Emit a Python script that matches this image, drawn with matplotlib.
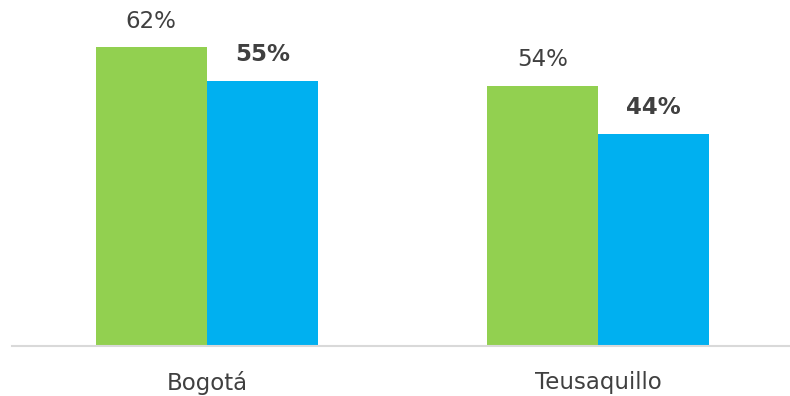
import matplotlib.pyplot as plt
import numpy as np

categories = ['Bogotá', 'Teusaquillo']
serie_a = [62, 54]   # barras verdes
serie_b = [55, 44]   # barras azules

verde = '#92D050'
azul = '#00B0F0'
gris = '#404040'

fig = plt.figure(figsize=(7.9, 3.96), dpi=100)
ax = fig.add_axes([0.0152, 0.1263, 0.9848, 0.8737])

x = np.arange(len(categories))
w = 0.285
b1 = ax.bar(x - w / 2, serie_a, width=w, color=verde)
b2 = ax.bar(x + w / 2, serie_b, width=w, color=azul)

for rect, v in zip(b1, serie_a):
    ax.annotate('%d%%' % v, (rect.get_x() + rect.get_width() / 2, v),
                xytext=(0, 10.5), textcoords='offset points',
                ha='center', va='bottom', fontsize=16.5, color=gris)
for rect, v in zip(b2, serie_b):
    ax.annotate('%d%%' % v, (rect.get_x() + rect.get_width() / 2, v),
                xytext=(0, 10.5), textcoords='offset points',
                ha='center', va='bottom', fontsize=16.5, color=gris,
                fontweight='bold')

ax.set_xlim(-0.4987, 1.491)
ax.set_ylim(0, 71.8)
ax.set_yticks([])
ax.set_xticks(x)
ax.set_xticklabels(categories, fontsize=16.5, color=gris)
ax.tick_params(axis='x', length=0, pad=18)
for s in ['top', 'right', 'left']:
    ax.spines[s].set_visible(False)
ax.spines['bottom'].set_color('#D9D9D9')
ax.spines['bottom'].set_linewidth(1.5)

fig.savefig('out.png', dpi=100)
